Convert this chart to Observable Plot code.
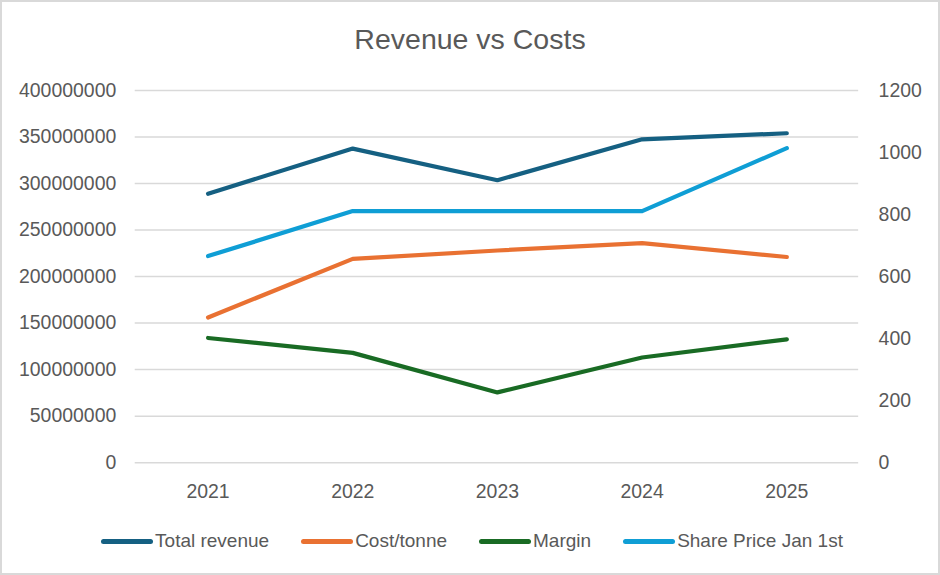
<!DOCTYPE html>
<html>
<head>
<meta charset="utf-8">
<script src="https://cdn.jsdelivr.net/npm/d3@7"></script>
<script src="https://cdn.jsdelivr.net/npm/@observablehq/plot@0.6"></script>
<style>
  html, body { margin: 0; padding: 0; background: #fff; }
  #chart { position: relative; width: 940px; height: 575px; box-sizing: border-box; border: 2px solid #d9d9d9; background: #fff; font-family: "Liberation Sans", Arial, sans-serif; color: #595959; overflow: hidden; }
  #title { position: absolute; left: 0; top: 19px; width: 936px; text-align: center; font-size: 28.5px; line-height: 36px; color: #595959; }
  #plot { position: absolute; left: -2px; top: 68px; }
  #legend { position: absolute; left: 0; top: 527px; width: 940px; display: flex; justify-content: center; gap: 32px; font-size: 19px; line-height: 24px; }
  .item { display: flex; align-items: center; }
  .sw { width: 52px; height: 5px; border-radius: 3px; margin-right: 2px; }
</style>
</head>
<body>
<div id="chart">
  <div id="title">Revenue vs Costs</div>
  <div id="plot"></div>
  <div id="legend"></div>
</div>
<script>
const years = ["2021", "2022", "2023", "2024", "2025"];
const totalRevenue = [289000000, 337500000, 303500000, 347500000, 354000000];
const costPerTonne = [156000000, 219000000, 228000000, 236000000, 221000000];
const margin = [134000000, 118000000, 75500000, 113000000, 132500000];
const sharePrice = [666, 811, 811, 811, 1014];
const leftTicks = [0, 50000000, 100000000, 150000000, 200000000, 250000000, 300000000, 350000000, 400000000];
const rightTicks = [0, 200, 400, 600, 800, 1000, 1200];

const seriesNames = ["Total revenue", "Cost/tonne", "Margin", "Share Price Jan 1st"];
const colors = ["#156082", "#E97132", "#196B24", "#0F9ED5"];

// secondary axis factor: right axis max 1200 maps to left max 400000000
const k = 400000000 / 1200;

const rows = [];
years.forEach((y, i) => {
  rows.push({year: y, series: seriesNames[0], v: totalRevenue[i]});
  rows.push({year: y, series: seriesNames[1], v: costPerTonne[i]});
  rows.push({year: y, series: seriesNames[2], v: margin[i]});
  rows.push({year: y, series: seriesNames[3], v: sharePrice[i] * k});
});

const font = "Liberation Sans, Arial, sans-serif";
const chart = Plot.plot({
  width: 940,
  height: 442,
  marginLeft: 135,
  marginRight: 80,
  marginTop: 20,
  marginBottom: 49,
  style: {fontFamily: font, fontSize: "19.5px", color: "#595959", background: "transparent", overflow: "visible"},
  x: {type: "point", domain: years, padding: 0.5},
  y: {domain: [0, 400000000]},
  color: {domain: seriesNames, range: colors},
  marks: [
    Plot.gridY(leftTicks, {stroke: "#d9d9d9", strokeOpacity: 1, strokeWidth: 1.5}),
    Plot.axisY(leftTicks, {anchor: "left", tickSize: 0, tickPadding: 19, tickFormat: d => String(d), fill: "#595959", label: null}),
    Plot.axisY(rightTicks.map(v => v * k), {anchor: "right", tickSize: 0, tickPadding: 20, tickFormat: d => String(Math.round(d / k)), fill: "#595959", label: null}),
    Plot.axisX({tickSize: 0, tickPadding: 22, fill: "#595959", label: null}),
    Plot.line(rows, {x: "year", y: "v", z: "series", stroke: "series", strokeWidth: 4.2, strokeLinecap: "round", strokeLinejoin: "round"})
  ]
});
document.getElementById("plot").appendChild(chart);

const legend = document.getElementById("legend");
seriesNames.forEach((name, i) => {
  const it = document.createElement("div");
  it.className = "item";
  const sw = document.createElement("div");
  sw.className = "sw";
  sw.style.background = colors[i];
  const t = document.createElement("span");
  t.textContent = name;
  it.appendChild(sw);
  it.appendChild(t);
  legend.appendChild(it);
});
</script>
</body>
</html>
